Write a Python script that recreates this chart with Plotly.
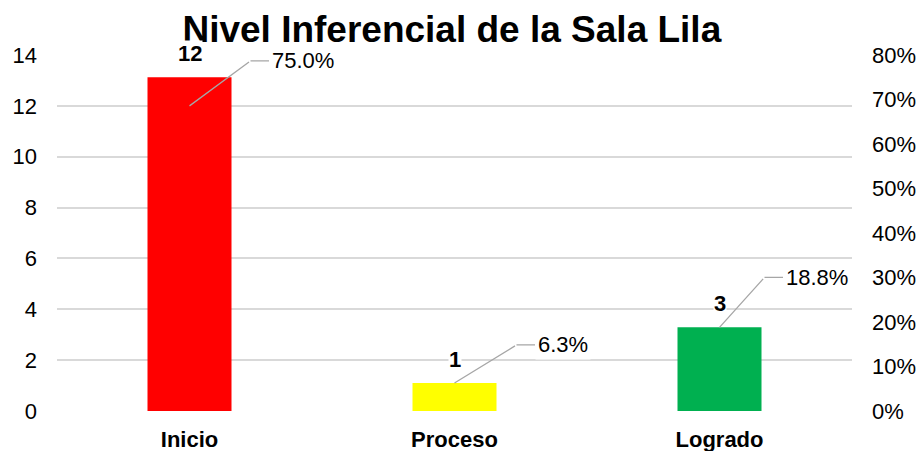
import plotly.graph_objects as go

categories = ["Inicio", "Proceso", "Logrado"]
counts = [12, 1, 3]
percents = [0.750, 0.063, 0.188]
pct_labels = ["75.0%", "6.3%", "18.8%"]
colors = ["#FF0000", "#FFFF00", "#00B050"]

FONT = "Arial, 'Liberation Sans', sans-serif"
LEADER = "#A6A6A6"

fig = go.Figure()
fig.add_trace(go.Bar(
    x=categories, y=percents, yaxis="y2",
    marker=dict(color=colors, line=dict(width=0)),
    showlegend=False, hoverinfo="skip",
))

annotations = []
# count labels
for c, p, n in zip(categories, percents, counts):
    annotations.append(dict(
        x=c, y=p, xref="x", yref="y2", text="<b>%d</b>" % n,
        showarrow=False, yanchor="bottom", yshift=10,
        font=dict(family=FONT, size=22, color="#000000"),
        bgcolor="#FFFFFF", borderpad=0,
    ))

# percent labels with elbow leader lines
elbows = [(61, -45), (62, -38), (45, -50)]      # elbow offset from tip (px)
text_dx = [52, 46, 52]                           # label centre offset from elbow (px)
for i, (c, p, n, lbl) in enumerate(zip(categories, percents, counts, pct_labels)):
    ex, ey = elbows[i]
    if i == 0:
        tip_y, tip_ref = n, "y"
    else:
        tip_y, tip_ref = p, "y2"
    # diagonal segment: tip -> elbow
    annotations.append(dict(
        x=c, y=tip_y, xref="x", yref=tip_ref, text="",
        showarrow=True, arrowhead=0, arrowwidth=1.3, arrowcolor=LEADER,
        ax=ex, ay=ey, axref="pixel", ayref="pixel", standoff=0,
    ))
    # label with horizontal segment to elbow
    annotations.append(dict(
        x=c, y=tip_y, xref="x", yref=tip_ref, xshift=ex, yshift=-ey,
        text=lbl,
        showarrow=True, arrowhead=0, arrowwidth=1.3, arrowcolor=LEADER,
        ax=text_dx[i], ay=0, axref="pixel", ayref="pixel", standoff=0,
        font=dict(family=FONT, size=22, color="#000000"),
        bgcolor="#FFFFFF", borderpad=2,
    ))

fig.update_layout(
    width=924, height=451,
    margin=dict(l=57, r=72, t=55, b=40, autoexpand=False),
    paper_bgcolor="#FFFFFF", plot_bgcolor="#FFFFFF",
    bargap=0.683,
    title=dict(
        text="<b>Nivel Inferencial de la Sala Lila</b>",
        x=0.489, xref="container", xanchor="center",
        y=1 - 29 / 451, yref="container", yanchor="middle",
        font=dict(family=FONT, size=37, color="#000000"),
    ),
    xaxis=dict(
        showgrid=False, showline=False, zeroline=False,
        tickfont=dict(family=FONT, size=22, color="#000000"),
        ticklabelstandoff=13, automargin=False,
        tickprefix="<b>", ticksuffix="</b>",
    ),
    yaxis=dict(
        range=[0, 14], dtick=2, showgrid=True, gridcolor="#D9D9D9", gridwidth=1.5,
        zeroline=False, showline=False,
        tickfont=dict(family=FONT, size=22, color="#000000"),
        ticklabelstandoff=19, automargin=False,
    ),
    yaxis2=dict(
        range=[0, 0.8], dtick=0.1, tickformat=".0%", overlaying="y", side="right",
        showgrid=False, zeroline=False, showline=False,
        tickfont=dict(family=FONT, size=22, color="#000000"),
        ticklabelstandoff=19, automargin=False,
    ),
    annotations=annotations,
)

fig.write_html(
    "out.html",
    config={"displayModeBar": False},
    post_script="document.body.style.margin='0';document.body.style.padding='0';window.dispatchEvent(new Event('resize'));",
)
